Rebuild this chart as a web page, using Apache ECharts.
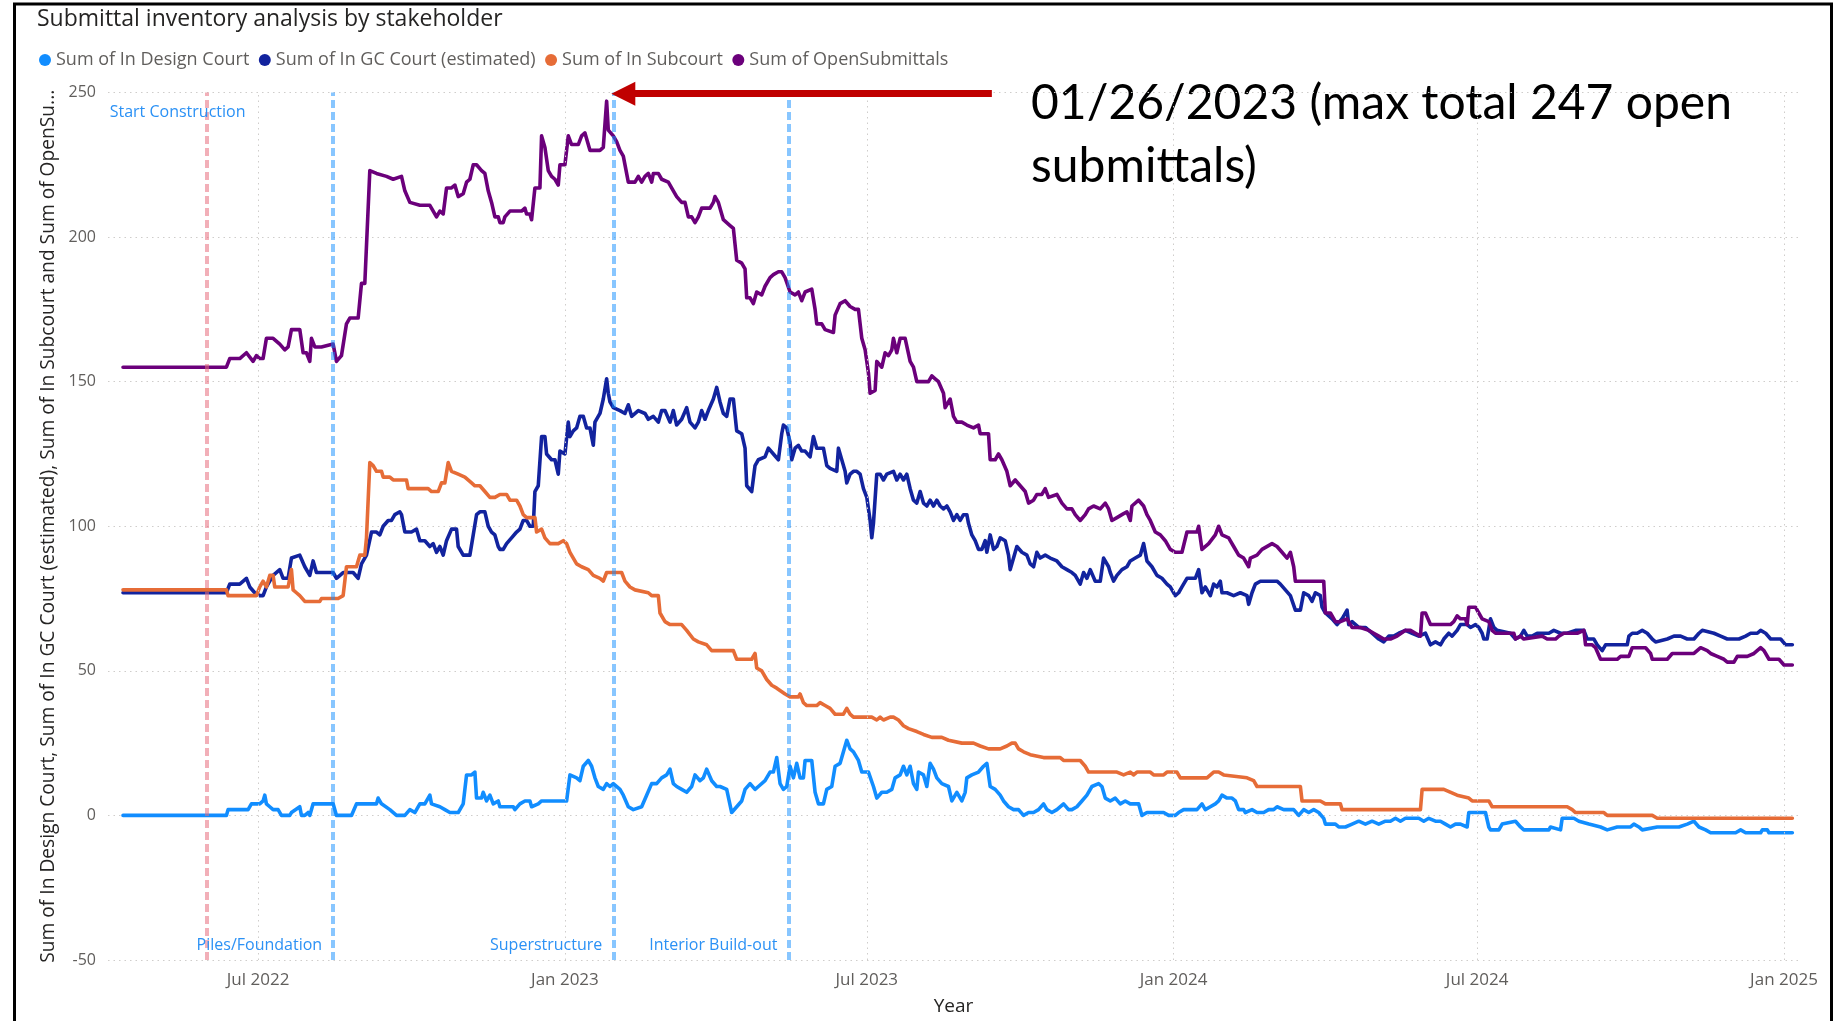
<!DOCTYPE html>
<html>
<head>
<meta charset="utf-8">
<title>Submittal inventory analysis by stakeholder</title>
<script src="https://cdn.jsdelivr.net/npm/echarts@6/dist/echarts.min.js"></script>
<style>
  html, body { margin: 0; padding: 0; background: #ffffff; }
  #chart-container { width: 1839px; height: 1021px; }
</style>
</head>
<body>
<div id="chart-container"></div>
<script>
const chartContainer = document.getElementById('chart-container');
const myChart = echarts.init(chartContainer, null, { renderer: 'canvas' });

const FONT = "'Segoe UI', 'Open Sans', sans-serif";

// 图例 / series names
const seriesNames = [
    'Sum of In Design Court',
    'Sum of In GC Court (estimated)',
    'Sum of In Subcourt',
    'Sum of OpenSubmittals'
];
const seriesColors = ['#118DFF', '#12239E', '#E66C37', '#6B007B'];

// x 轴刻度
const tickDates = ['2022-07-01', '2023-01-01', '2023-07-01', '2024-01-01', '2024-07-01', '2025-01-01'];
const tickLabels = ['Jul 2022', 'Jan 2023', 'Jul 2023', 'Jan 2024', 'Jul 2024', 'Jan 2025'];
const axisStart = '2022-04-02';
const axisEnd = '2025-01-10';

// 施工阶段线
const phaseNames = ['Start Construction', 'Piles/Foundation', 'Superstructure', 'Interior Build-out'];
const phaseDates = ['2022-05-31', '2022-08-15', '2023-01-30', '2023-05-15'];

// 峰值标注
const peakDate = '2023-01-26';
const peakValue = 247;

// Sum of In Design Court
const designCourt = [
    ['2022-04-11',0],['2022-06-12',0],['2022-06-13',2],['2022-06-25',2],['2022-06-27',4],['2022-07-02',4],['2022-07-04',5],['2022-07-05',7],
    ['2022-07-06',4],['2022-07-08',3],['2022-07-10',2],['2022-07-13',2],['2022-07-15',0],['2022-07-20',0],['2022-07-21',1],['2022-07-26',3],
    ['2022-07-27',0],['2022-07-29',0],['2022-07-31',1],['2022-08-01',0],['2022-08-03',4],['2022-08-15',4],['2022-08-17',0],['2022-08-26',0],
    ['2022-08-29',4],['2022-09-10',4],['2022-09-11',6],['2022-09-13',4],['2022-09-18',2],['2022-09-22',0],['2022-09-27',0],['2022-09-30',2],
    ['2022-10-03',1],['2022-10-06',4],['2022-10-09',4],['2022-10-12',7],['2022-10-13',4],['2022-10-18',3],['2022-10-21',2],['2022-10-24',1],
    ['2022-10-29',1],['2022-11-01',4],['2022-11-03',14],['2022-11-06',14],['2022-11-08',15],['2022-11-09',6],['2022-11-12',6],['2022-11-13',8],
    ['2022-11-15',5],['2022-11-17',7],['2022-11-19',4],['2022-11-22',5],['2022-11-23',3],['2022-12-01',3],['2022-12-02',2],['2022-12-05',4],
    ['2022-12-08',5],['2022-12-11',5],['2022-12-12',3],['2022-12-16',4],['2022-12-18',5],['2023-01-02',5],['2023-01-04',14],['2023-01-08',13],
    ['2023-01-10',12],['2023-01-12',17],['2023-01-15',19],['2023-01-17',17],['2023-01-19',13],['2023-01-21',10],['2023-01-24',9],['2023-01-26',11],
    ['2023-01-28',10],['2023-01-30',11],['2023-02-03',9],['2023-02-05',7],['2023-02-08',3],['2023-02-11',2],['2023-02-16',3],['2023-02-19',7],
    ['2023-02-22',11],['2023-02-25',11],['2023-02-28',13],['2023-03-03',14],['2023-03-05',16],['2023-03-07',11],['2023-03-09',10],['2023-03-12',9],
    ['2023-03-15',8],['2023-03-18',10],['2023-03-20',14],['2023-03-23',12],['2023-03-25',13],['2023-03-27',16],['2023-03-30',12],['2023-04-02',10],
    ['2023-04-04',10],['2023-04-08',9],['2023-04-11',1],['2023-04-14',3],['2023-04-17',5],['2023-04-19',9],['2023-04-22',11],['2023-04-25',9],
    ['2023-04-27',10],['2023-05-01',12],['2023-05-04',15],['2023-05-06',15],['2023-05-08',20],['2023-05-10',11],['2023-05-12',9],['2023-05-14',10],
    ['2023-05-16',17],['2023-05-18',13],['2023-05-20',18],['2023-05-22',13],['2023-05-24',13],['2023-05-25',19],['2023-05-29',19],['2023-05-31',8],
    ['2023-06-02',4],['2023-06-05',4],['2023-06-07',9],['2023-06-10',10],['2023-06-12',17],['2023-06-15',18],['2023-06-16',20],['2023-06-19',26],
    ['2023-06-21',23],['2023-06-23',22],['2023-06-26',19],['2023-06-28',15],['2023-07-02',15],['2023-07-05',10],['2023-07-07',6],['2023-07-10',8],
    ['2023-07-13',8],['2023-07-16',9],['2023-07-18',13],['2023-07-21',14],['2023-07-23',17],['2023-07-25',14],['2023-07-27',17],['2023-07-29',11],
    ['2023-07-31',9],['2023-08-01',15],['2023-08-04',14],['2023-08-06',10],['2023-08-08',18],['2023-08-10',16],['2023-08-12',13],['2023-08-15',11],
    ['2023-08-19',10],['2023-08-21',5],['2023-08-24',8],['2023-08-27',5],['2023-08-29',8],['2023-08-30',13],['2023-09-02',14],['2023-09-06',15],
    ['2023-09-09',17],['2023-09-11',18],['2023-09-13',10],['2023-09-16',9],['2023-09-19',7],['2023-09-21',5],['2023-09-24',3],['2023-09-27',2],
    ['2023-09-30',2],['2023-10-03',0],['2023-10-06',1],['2023-10-09',1],['2023-10-12',2],['2023-10-15',4],['2023-10-17',2],['2023-10-20',1],
    ['2023-10-23',2],['2023-10-27',4],['2023-10-30',2],['2023-11-01',2],['2023-11-04',3],['2023-11-07',5],['2023-11-10',7],['2023-11-13',10],
    ['2023-11-17',11],['2023-11-19',10],['2023-11-21',6],['2023-11-24',5],['2023-11-27',6],['2023-11-30',4],['2023-12-03',5],['2023-12-06',4],
    ['2023-12-11',4],['2023-12-13',0],['2023-12-16',1],['2023-12-26',1],['2023-12-29',0],['2024-01-02',0],['2024-01-04',1],['2024-01-07',2],
    ['2024-01-15',2],['2024-01-18',4],['2024-01-20',2],['2024-01-23',3],['2024-01-26',4],['2024-01-28',5],['2024-01-30',7],['2024-02-02',6],
    ['2024-02-05',6],['2024-02-07',5],['2024-02-09',2],['2024-02-12',2],['2024-02-13',1],['2024-02-17',2],['2024-02-20',1],['2024-02-24',1],
    ['2024-02-27',2],['2024-03-01',2],['2024-03-03',3],['2024-03-07',2],['2024-03-13',2],['2024-03-16',0],['2024-03-19',2],['2024-03-22',1],
    ['2024-03-25',2],['2024-03-28',1],['2024-03-31',-1],['2024-04-01',-3],['2024-04-07',-3],['2024-04-09',-4],['2024-04-13',-4],['2024-04-17',-3],
    ['2024-04-21',-2],['2024-04-25',-3],['2024-04-29',-2],['2024-05-03',-3],['2024-05-07',-2],['2024-05-10',-2],['2024-05-13',-1],['2024-05-16',-2],
    ['2024-05-19',-1],['2024-05-27',-1],['2024-05-30',-2],['2024-06-02',-1],['2024-06-06',-2],['2024-06-09',-2],['2024-06-12',-3],['2024-06-15',-4],
    ['2024-06-18',-3],['2024-06-21',-3],['2024-06-25',-4],['2024-06-26',1],['2024-07-06',1],['2024-07-08',-4],['2024-07-09',-5],['2024-07-14',-5],
    ['2024-07-16',-3],['2024-07-24',-2],['2024-07-27',-4],['2024-07-29',-5],['2024-08-13',-5],['2024-08-14',-4],['2024-08-20',-5],['2024-08-21',-1],
    ['2024-08-28',-1],['2024-08-31',-2],['2024-09-06',-3],['2024-09-13',-4],['2024-09-17',-5],['2024-09-23',-4],['2024-10-01',-4],['2024-10-03',-3],
    ['2024-10-06',-4],['2024-10-08',-5],['2024-10-17',-4],['2024-10-30',-4],['2024-11-04',-3],['2024-11-08',-2],['2024-11-11',-4],['2024-11-15',-5],
    ['2024-11-18',-6],['2024-12-03',-6],['2024-12-06',-5],['2024-12-09',-6],['2024-12-18',-6],['2024-12-19',-5],['2024-12-22',-5],['2024-12-23',-6],
    ['2025-01-06',-6]
];

// Sum of In GC Court (estimated)
const gcCourt = [
    ['2022-04-11',77],['2022-06-12',77],['2022-06-14',80],['2022-06-20',80],['2022-06-24',82],['2022-06-26',79],['2022-06-29',77],['2022-07-02',76],
    ['2022-07-04',76],['2022-07-06',79],['2022-07-10',83],['2022-07-14',85],['2022-07-16',82],['2022-07-19',82],['2022-07-21',89],['2022-07-26',90],
    ['2022-07-29',86],['2022-08-01',83],['2022-08-03',88],['2022-08-05',84],['2022-08-15',84],['2022-08-17',82],['2022-08-21',84],['2022-08-27',84],
    ['2022-08-30',82],['2022-09-01',87],['2022-09-04',90],['2022-09-07',98],['2022-09-10',98],['2022-09-12',97],['2022-09-14',100],['2022-09-17',102],
    ['2022-09-19',102],['2022-09-21',104],['2022-09-24',105],['2022-09-25',104],['2022-09-27',98],['2022-10-01',98],['2022-10-04',99],['2022-10-06',95],
    ['2022-10-09',95],['2022-10-12',93],['2022-10-14',94],['2022-10-16',91],['2022-10-18',93],['2022-10-20',90],['2022-10-22',95],['2022-10-25',99],
    ['2022-10-28',99],['2022-10-29',93],['2022-11-01',90],['2022-11-05',90],['2022-11-07',97],['2022-11-09',104],['2022-11-11',105],['2022-11-14',105],
    ['2022-11-16',100],['2022-11-18',98],['2022-11-20',97],['2022-11-22',93],['2022-11-23',92],['2022-11-25',92],['2022-11-27',94],['2022-11-30',96],
    ['2022-12-03',98],['2022-12-05',99],['2022-12-07',102],['2022-12-09',102],['2022-12-11',100],['2022-12-13',100],['2022-12-14',112],['2022-12-16',114],
    ['2022-12-18',131],['2022-12-20',131],['2022-12-21',125],['2022-12-24',123],['2022-12-26',123],['2022-12-28',118],['2022-12-29',126],['2023-01-01',125],
    ['2023-01-03',136],['2023-01-04',131],['2023-01-06',133],['2023-01-08',134],['2023-01-10',138],['2023-01-12',138],['2023-01-14',134],['2023-01-16',134],
    ['2023-01-18',128],['2023-01-19',136],['2023-01-20',136],['2023-01-22',139],['2023-01-24',144],['2023-01-26',151],['2023-01-27',146],['2023-01-28',143],
    ['2023-01-30',141],['2023-02-03',140],['2023-02-06',139],['2023-02-08',142],['2023-02-10',138],['2023-02-14',140],['2023-02-18',139],['2023-02-20',137],
    ['2023-02-23',138],['2023-02-26',136],['2023-02-28',140],['2023-03-02',140],['2023-03-05',136],['2023-03-07',140],['2023-03-09',135],['2023-03-12',137],
    ['2023-03-15',141],['2023-03-17',136],['2023-03-20',134],['2023-03-22',136],['2023-03-24',140],['2023-03-26',137],['2023-03-28',140],['2023-03-31',144],
    ['2023-04-02',148],['2023-04-04',143],['2023-04-06',139],['2023-04-08',138],['2023-04-10',144],['2023-04-12',144],['2023-04-14',133],['2023-04-17',132],
    ['2023-04-19',127],['2023-04-20',114],['2023-04-23',112],['2023-04-25',121],['2023-04-27',123],['2023-05-01',124],['2023-05-03',127],['2023-05-06',125],
    ['2023-05-09',123],['2023-05-11',132],['2023-05-12',135],['2023-05-14',134],['2023-05-16',129],['2023-05-17',123],['2023-05-19',127],['2023-05-21',128],
    ['2023-05-23',126],['2023-05-25',126],['2023-05-28',124],['2023-05-30',131],['2023-06-01',127],['2023-06-05',127],['2023-06-07',121],['2023-06-09',120],
    ['2023-06-13',119],['2023-06-14',127],['2023-06-16',123],['2023-06-18',119],['2023-06-19',115],['2023-06-21',118],['2023-06-23',119],['2023-06-25',119],
    ['2023-06-27',118],['2023-06-29',113],['2023-07-01',110],['2023-07-03',102],['2023-07-04',96],['2023-07-05',101],['2023-07-07',118],['2023-07-09',118],
    ['2023-07-11',116],['2023-07-13',118],['2023-07-17',119],['2023-07-19',116],['2023-07-21',118],['2023-07-23',116],['2023-07-25',118],['2023-07-27',113],
    ['2023-07-29',109],['2023-07-31',108],['2023-08-02',112],['2023-08-04',108],['2023-08-06',107],['2023-08-08',109],['2023-08-10',107],['2023-08-12',109],
    ['2023-08-14',107],['2023-08-16',106],['2023-08-18',107],['2023-08-20',105],['2023-08-22',102],['2023-08-24',104],['2023-08-26',102],['2023-08-28',104],
    ['2023-08-30',104],['2023-08-31',101],['2023-09-02',97],['2023-09-04',95],['2023-09-06',92],['2023-09-08',92],['2023-09-10',95],['2023-09-11',91],
    ['2023-09-13',97],['2023-09-15',92],['2023-09-17',93],['2023-09-19',96],['2023-09-22',95],['2023-09-24',90],['2023-09-25',85],['2023-09-27',89],
    ['2023-09-29',93],['2023-10-02',91],['2023-10-05',90],['2023-10-07',87],['2023-10-09',86],['2023-10-11',91],['2023-10-13',89],['2023-10-16',90],
    ['2023-10-19',89],['2023-10-23',88],['2023-10-26',86],['2023-10-29',85],['2023-11-01',84],['2023-11-03',83],['2023-11-06',80],['2023-11-08',84],
    ['2023-11-10',82],['2023-11-12',85],['2023-11-15',81],['2023-11-18',81],['2023-11-20',89],['2023-11-23',86],['2023-11-24',84],['2023-11-26',81],
    ['2023-11-28',83],['2023-12-01',85],['2023-12-04',86],['2023-12-06',88],['2023-12-09',89],['2023-12-12',90],['2023-12-14',94],['2023-12-16',88],
    ['2023-12-19',86],['2023-12-22',83],['2023-12-25',82],['2023-12-28',80],['2023-12-30',79],['2024-01-02',76],['2024-01-04',77],['2024-01-06',79],
    ['2024-01-09',82],['2024-01-14',82],['2024-01-16',85],['2024-01-18',77],['2024-01-20',79],['2024-01-23',76],['2024-01-25',80],['2024-01-27',79],
    ['2024-01-29',81],['2024-01-30',77],['2024-02-02',77],['2024-02-06',76],['2024-02-10',77],['2024-02-14',76],['2024-02-15',73],['2024-02-17',77],
    ['2024-02-19',80],['2024-02-22',81],['2024-03-03',81],['2024-03-05',80],['2024-03-08',78],['2024-03-11',76],['2024-03-14',71],['2024-03-17',71],
    ['2024-03-19',77],['2024-03-22',76],['2024-03-24',74],['2024-03-26',77],['2024-03-29',76],['2024-03-30',72],['2024-04-01',70],['2024-04-05',68],
    ['2024-04-08',66],['2024-04-11',68],['2024-04-14',71],['2024-04-15',66],['2024-04-17',67],['2024-04-21',65],['2024-04-25',65],['2024-04-29',63],
    ['2024-05-03',61],['2024-05-06',60],['2024-05-09',62],['2024-05-12',62],['2024-05-15',63],['2024-05-19',64],['2024-05-23',63],['2024-05-27',62],
    ['2024-05-31',63],['2024-06-03',59],['2024-06-06',60],['2024-06-09',59],['2024-06-11',61],['2024-06-14',63],['2024-06-16',62],['2024-06-19',64],
    ['2024-06-21',66],['2024-06-25',66],['2024-06-27',65],['2024-06-30',66],['2024-07-02',65],['2024-07-04',63],['2024-07-05',61],['2024-07-07',61],
    ['2024-07-09',68],['2024-07-11',65],['2024-07-13',64],['2024-07-21',63],['2024-07-24',61],['2024-07-27',62],['2024-07-29',64],['2024-07-31',62],
    ['2024-08-03',62],['2024-08-06',63],['2024-08-13',63],['2024-08-16',64],['2024-08-20',63],['2024-08-24',63],['2024-08-29',64],['2024-09-03',64],
    ['2024-09-05',61],['2024-09-09',61],['2024-09-11',59],['2024-09-14',57],['2024-09-16',59],['2024-09-29',59],['2024-09-30',62],['2024-10-02',63],
    ['2024-10-05',63],['2024-10-08',64],['2024-10-11',63],['2024-10-14',61],['2024-10-16',60],['2024-10-23',61],['2024-10-27',62],['2024-10-31',62],
    ['2024-11-04',61],['2024-11-08',61],['2024-11-11',63],['2024-11-13',64],['2024-11-20',63],['2024-11-24',62],['2024-11-28',61],['2024-12-05',61],
    ['2024-12-09',62],['2024-12-12',63],['2024-12-16',63],['2024-12-18',64],['2024-12-21',63],['2024-12-24',61],['2024-12-30',61],['2025-01-02',59],
    ['2025-01-06',59]
];

// Sum of In Subcourt
const subCourt = [
    ['2022-04-11',78],['2022-06-12',78],['2022-06-13',76],['2022-06-30',76],['2022-07-02',79],['2022-07-04',81],['2022-07-06',79],['2022-07-08',83],
    ['2022-07-10',83],['2022-07-11',79],['2022-07-19',79],['2022-07-21',85],['2022-07-22',78],['2022-07-24',77],['2022-07-26',76],['2022-07-29',74],
    ['2022-08-07',74],['2022-08-08',75],['2022-08-18',75],['2022-08-21',76],['2022-08-23',86],['2022-08-29',86],['2022-08-31',90],['2022-09-03',90],
    ['2022-09-04',96],['2022-09-06',122],['2022-09-08',121],['2022-09-10',119],['2022-09-13',119],['2022-09-14',117],['2022-09-18',117],['2022-09-20',116],
    ['2022-09-28',116],['2022-09-29',113],['2022-10-11',113],['2022-10-13',112],['2022-10-17',112],['2022-10-19',115],['2022-10-21',115],['2022-10-23',122],
    ['2022-10-25',119],['2022-10-29',118],['2022-11-02',117],['2022-11-06',115],['2022-11-08',114],['2022-11-11',114],['2022-11-14',112],['2022-11-17',110],
    ['2022-11-20',110],['2022-11-23',111],['2022-11-27',111],['2022-11-29',109],['2022-12-03',109],['2022-12-05',107],['2022-12-07',104],['2022-12-09',103],
    ['2022-12-14',103],['2022-12-15',98],['2022-12-18',99],['2022-12-20',96],['2022-12-23',94],['2022-12-28',94],['2022-12-31',95],['2023-01-02',94],
    ['2023-01-04',91],['2023-01-06',89],['2023-01-08',87],['2023-01-11',86],['2023-01-15',85],['2023-01-18',83],['2023-01-22',82],['2023-01-24',81],
    ['2023-01-26',84],['2023-02-04',84],['2023-02-06',81],['2023-02-09',79],['2023-02-12',78],['2023-02-20',77],['2023-02-22',76],['2023-02-26',76],
    ['2023-02-27',70],['2023-03-02',67],['2023-03-05',66],['2023-03-12',66],['2023-03-15',64],['2023-03-19',61],['2023-03-22',60],['2023-03-27',59],
    ['2023-03-30',57],['2023-04-12',57],['2023-04-14',54],['2023-04-23',54],['2023-04-25',56],['2023-04-26',51],['2023-04-29',50],['2023-05-02',47],
    ['2023-05-05',45],['2023-05-08',44],['2023-05-13',42],['2023-05-16',41],['2023-05-21',41],['2023-05-22',42],['2023-05-24',39],['2023-05-26',38],
    ['2023-06-01',38],['2023-06-03',39],['2023-06-06',38],['2023-06-09',37],['2023-06-12',35],['2023-06-17',35],['2023-06-19',37],['2023-06-21',35],
    ['2023-06-23',34],['2023-07-04',34],['2023-07-07',33],['2023-07-09',34],['2023-07-11',33],['2023-07-15',34],['2023-07-17',34],['2023-07-20',33],
    ['2023-07-23',31],['2023-07-26',30],['2023-07-31',29],['2023-08-04',28],['2023-08-09',27],['2023-08-15',27],['2023-08-19',26],['2023-08-27',25],
    ['2023-09-03',25],['2023-09-07',24],['2023-09-12',23],['2023-09-19',23],['2023-09-23',24],['2023-09-26',25],['2023-09-28',25],['2023-09-30',23],
    ['2023-10-03',22],['2023-10-07',21],['2023-10-15',20],['2023-10-25',20],['2023-10-27',19],['2023-11-06',19],['2023-11-09',17],['2023-11-11',15],
    ['2023-11-28',15],['2023-12-02',14],['2023-12-06',15],['2023-12-08',14],['2023-12-10',15],['2023-12-18',15],['2023-12-20',14],['2023-12-26',14],
    ['2023-12-28',15],['2024-01-03',15],['2024-01-05',13],['2024-01-21',13],['2024-01-25',15],['2024-01-28',15],['2024-01-31',14],['2024-02-14',13],
    ['2024-02-18',12],['2024-02-20',10],['2024-03-17',10],['2024-03-18',5],['2024-03-29',5],['2024-04-01',4],['2024-04-10',4],['2024-04-11',2],
    ['2024-05-28',2],['2024-05-29',9],['2024-06-11',9],['2024-06-19',7],['2024-06-26',6],['2024-06-28',5],['2024-07-08',5],['2024-07-10',3],
    ['2024-08-24',3],['2024-08-27',2],['2024-08-29',1],['2024-09-15',1],['2024-09-17',0],['2024-10-14',0],['2024-10-17',-1],['2025-01-06',-1]
];

// Sum of OpenSubmittals
const openSubmittals = [
    ['2022-04-11',155],['2022-06-12',155],['2022-06-14',158],['2022-06-20',158],['2022-06-24',160],['2022-06-28',157],['2022-06-30',159],['2022-07-02',158],
    ['2022-07-04',158],['2022-07-06',165],['2022-07-10',165],['2022-07-14',163],['2022-07-17',161],['2022-07-19',162],['2022-07-21',168],['2022-07-26',168],
    ['2022-07-28',160],['2022-07-30',160],['2022-08-01',157],['2022-08-02',165],['2022-08-04',162],['2022-08-08',162],['2022-08-15',163],['2022-08-17',157],
    ['2022-08-20',159],['2022-08-23',170],['2022-08-25',172],['2022-08-30',172],['2022-09-01',184],['2022-09-03',184],['2022-09-06',223],['2022-09-10',222],
    ['2022-09-16',221],['2022-09-20',220],['2022-09-25',221],['2022-09-27',216],['2022-09-30',212],['2022-10-06',211],['2022-10-12',211],['2022-10-16',207],
    ['2022-10-18',209],['2022-10-20',208],['2022-10-22',217],['2022-10-25',217],['2022-10-27',218],['2022-10-29',214],['2022-11-01',215],['2022-11-03',219],
    ['2022-11-05',220],['2022-11-07',225],['2022-11-09',225],['2022-11-12',223],['2022-11-14',222],['2022-11-16',216],['2022-11-18',212],['2022-11-20',207],
    ['2022-11-22',207],['2022-11-23',205],['2022-11-25',205],['2022-11-26',207],['2022-11-29',209],['2022-12-06',209],['2022-12-08',210],['2022-12-09',208],
    ['2022-12-11',208],['2022-12-12',206],['2022-12-14',217],['2022-12-17',217],['2022-12-18',235],['2022-12-20',231],['2022-12-22',223],['2022-12-24',221],
    ['2022-12-26',220],['2022-12-28',218],['2022-12-29',225],['2023-01-01',225],['2023-01-03',235],['2023-01-04',235],['2023-01-05',232],['2023-01-09',232],
    ['2023-01-11',235],['2023-01-13',236],['2023-01-14',236],['2023-01-16',230],['2023-01-22',230],['2023-01-24',231],['2023-01-26',247],['2023-01-27',237],
    ['2023-01-28',237],['2023-01-30',235],['2023-02-01',233],['2023-02-03',230],['2023-02-05',228],['2023-02-08',219],['2023-02-12',219],['2023-02-14',221],
    ['2023-02-16',219],['2023-02-18',221],['2023-02-20',222],['2023-02-22',219],['2023-02-23',222],['2023-02-26',222],['2023-02-28',220],['2023-03-04',219],
    ['2023-03-07',216],['2023-03-09',214],['2023-03-12',212],['2023-03-14',212],['2023-03-16',207],['2023-03-18',207],['2023-03-20',205],['2023-03-22',207],
    ['2023-03-24',210],['2023-03-29',210],['2023-03-31',212],['2023-04-01',214],['2023-04-03',212],['2023-04-06',206],['2023-04-08',205],['2023-04-10',204],
    ['2023-04-12',203],['2023-04-14',192],['2023-04-15',192],['2023-04-17',191],['2023-04-19',189],['2023-04-20',179],['2023-04-22',179],['2023-04-24',177],
    ['2023-04-26',181],['2023-04-29',180],['2023-05-01',183],['2023-05-04',186],['2023-05-06',187],['2023-05-09',188],['2023-05-11',188],['2023-05-13',186],
    ['2023-05-16',181],['2023-05-19',180],['2023-05-21',181],['2023-05-23',178],['2023-05-25',181],['2023-05-29',182],['2023-05-31',175],['2023-06-01',170],
    ['2023-06-04',170],['2023-06-06',168],['2023-06-11',167],['2023-06-12',173],['2023-06-15',177],['2023-06-18',178],['2023-06-21',176],['2023-06-24',175],
    ['2023-06-26',175],['2023-06-28',165],['2023-06-30',161],['2023-07-02',153],['2023-07-03',146],['2023-07-06',147],['2023-07-07',157],['2023-07-10',155],
    ['2023-07-12',160],['2023-07-14',159],['2023-07-16',161],['2023-07-17',165],['2023-07-19',160],['2023-07-21',165],['2023-07-24',165],['2023-07-27',157],
    ['2023-07-29',155],['2023-07-31',150],['2023-08-07',150],['2023-08-09',152],['2023-08-11',151],['2023-08-13',150],['2023-08-16',146],['2023-08-17',141],
    ['2023-08-20',144],['2023-08-22',138],['2023-08-24',136],['2023-08-27',136],['2023-08-30',135],['2023-09-03',134],['2023-09-06',135],['2023-09-07',132],
    ['2023-09-12',132],['2023-09-13',123],['2023-09-16',123],['2023-09-18',125],['2023-09-20',123],['2023-09-23',119],['2023-09-25',114],['2023-09-28',116],
    ['2023-10-01',114],['2023-10-04',112],['2023-10-06',108],['2023-10-09',109],['2023-10-11',111],['2023-10-14',111],['2023-10-16',113],['2023-10-18',110],
    ['2023-10-23',111],['2023-10-26',108],['2023-10-29',106],['2023-11-01',106],['2023-11-03',104],['2023-11-06',102],['2023-11-09',104],['2023-11-11',106],
    ['2023-11-14',107],['2023-11-18',106],['2023-11-21',108],['2023-11-23',106],['2023-11-25',102],['2023-11-28',103],['2023-12-01',104],['2023-12-04',105],
    ['2023-12-06',102],['2023-12-07',107],['2023-12-11',109],['2023-12-14',107],['2023-12-16',104],['2023-12-18',102],['2023-12-21',98],['2023-12-24',97],
    ['2023-12-27',95],['2023-12-30',92],['2024-01-02',91],['2024-01-06',91],['2024-01-09',98],['2024-01-15',98],['2024-01-16',100],['2024-01-18',92],
    ['2024-01-22',94],['2024-01-26',97],['2024-01-28',100],['2024-01-30',97],['2024-02-03',96],['2024-02-06',93],['2024-02-09',90],['2024-02-12',89],
    ['2024-02-15',86],['2024-02-16',89],['2024-02-20',90],['2024-02-23',92],['2024-02-29',94],['2024-03-03',93],['2024-03-06',91],['2024-03-09',89],
    ['2024-03-11',91],['2024-03-13',86],['2024-03-14',81],['2024-03-31',81],['2024-04-01',70],['2024-04-04',70],['2024-04-07',67],['2024-04-10',67],
    ['2024-04-14',68],['2024-04-17',65],['2024-04-22',65],['2024-04-27',64],['2024-04-30',63],['2024-05-03',62],['2024-05-06',61],['2024-05-10',61],
    ['2024-05-14',62],['2024-05-19',64],['2024-05-22',64],['2024-05-25',63],['2024-05-28',62],['2024-05-29',70],['2024-05-31',70],['2024-06-03',66],
    ['2024-06-15',66],['2024-06-17',67],['2024-06-19',69],['2024-06-21',68],['2024-06-24',68],['2024-06-25',66],['2024-06-26',72],['2024-06-30',72],
    ['2024-07-02',70],['2024-07-04',68],['2024-07-08',67],['2024-07-10',64],['2024-07-12',63],['2024-07-23',63],['2024-07-24',61],['2024-07-27',62],
    ['2024-07-29',61],['2024-08-09',62],['2024-08-12',61],['2024-08-17',61],['2024-08-19',62],['2024-08-22',63],['2024-08-30',63],['2024-09-03',64],
    ['2024-09-04',59],['2024-09-08',59],['2024-09-10',58],['2024-09-13',54],['2024-09-23',54],['2024-09-25',55],['2024-09-30',55],['2024-10-02',58],
    ['2024-10-10',58],['2024-10-13',56],['2024-10-14',54],['2024-10-23',54],['2024-10-26',56],['2024-11-08',56],['2024-11-12',58],['2024-11-16',57],
    ['2024-11-18',56],['2024-11-22',55],['2024-11-26',54],['2024-11-28',53],['2024-12-02',53],['2024-12-04',55],['2024-12-10',55],['2024-12-14',56],
    ['2024-12-18',58],['2024-12-20',57],['2024-12-23',54],['2024-12-29',54],['2025-01-01',52],['2025-01-06',52]
];

const seriesData = [designCourt, gcCourt, subCourt, openSubmittals];

// 日期字符串 -> 时间戳 (x 轴用数值轴)
function toTime(d) {
    return +echarts.time.parse(d);
}

const tickTimes = tickDates.map(toTime);
const gridColor = '#CFCDCB';
const phaseBlue = 'rgba(17,141,255,0.5)';
const phasePink = 'rgba(232,110,125,0.55)';
const phaseLabelColor = '#2B91F5';

const lineSeries = seriesNames.map((name, i) => ({
    name: name,
    type: 'line',
    data: seriesData[i].map(p => [toTime(p[0]), p[1]]),
    showSymbol: false,
    symbol: 'none',
    z: 3,
    lineStyle: { color: seriesColors[i], width: 3.6, join: 'round', cap: 'round' },
    itemStyle: { color: seriesColors[i] },
    emphasis: { disabled: true }
}));

const phaseLabelItems = phaseDates.map((d, i) => {
    if (i === 0) {
        // 顶部标签
        return {
            coord: [toTime('2022-04-03'), 243.2],
            label: { position: 'right', distance: 0, formatter: phaseNames[i] }
        };
    }
    return {
        coord: [toTime(d), -45],
        label: { position: 'left', distance: 11, formatter: phaseNames[i] }
    };
});

const option = {
    animation: false,
    backgroundColor: '#ffffff',
    textStyle: { fontFamily: FONT },
    title: {
        text: 'Submittal inventory analysis by stakeholder',
        left: 37,
        top: 8,
        padding: 0,
        textStyle: { fontFamily: FONT, fontSize: 23, fontWeight: 'normal', color: '#252423' }
    },
    legend: {
        data: seriesNames,
        left: 39,
        top: 51,
        padding: 0,
        icon: 'circle',
        itemWidth: 12,
        itemHeight: 12,
        itemGap: 9.5,
        selectedMode: false,
        textStyle: { fontFamily: FONT, fontSize: 18, color: '#605E5C' }
    },
    grid: {
        left: 108,
        right: 40,
        top: 92.5,
        bottom: 59
    },
    xAxis: {
        type: 'value',
        min: toTime(axisStart),
        max: toTime(axisEnd),
        scale: true,
        name: 'Year',
        nameLocation: 'middle',
        nameGap: 37,
        nameTextStyle: { fontFamily: FONT, fontSize: 19, color: '#252423' },
        axisLine: { show: false },
        axisTick: { show: false },
        splitLine: { show: false },
        axisLabel: {
            customValues: tickTimes,
            margin: 12,
            fontFamily: FONT,
            fontSize: 17,
            color: '#605E5C',
            formatter: function (value) {
                const idx = tickTimes.indexOf(value);
                return idx >= 0 ? tickLabels[idx] : '';
            }
        }
    },
    yAxis: {
        type: 'value',
        min: -50,
        max: 250,
        interval: 50,
        name: 'Sum of In Design Court, Sum of In GC Court (estimated), Sum of In Subcourt and Sum of OpenSu...',
        nameLocation: 'middle',
        nameGap: 45.5,
        nameTextStyle: { fontFamily: FONT, fontSize: 19.2, color: '#252423' },
        axisLine: { show: false },
        axisTick: { show: false },
        axisLabel: { margin: 12, fontFamily: FONT, fontSize: 16, color: '#605E5C' },
        splitLine: { show: true, lineStyle: { color: gridColor, width: 1, type: [1.5, 4] } }
    },
    series: [
        // 竖向网格线
        {
            name: 'x-grid',
            type: 'line',
            data: [],
            z: 1,
            silent: true,
            markLine: {
                silent: true,
                animation: false,
                symbol: ['none', 'none'],
                label: { show: false },
                lineStyle: { color: gridColor, width: 1, type: [1.5, 4] },
                data: tickTimes.map(t => ({ xAxis: t }))
            }
        }
    ].concat(lineSeries).concat([
        // 阶段线 + 标签
        {
            name: 'phases',
            type: 'line',
            data: [],
            z: 5,
            silent: true,
            markLine: {
                silent: true,
                animation: false,
                symbol: ['none', 'none'],
                label: { show: false },
                data: phaseDates.map((d, i) => ({
                    xAxis: toTime(d),
                    lineStyle: { color: i === 0 ? phasePink : phaseBlue, width: 4, type: [8, 4] }
                }))
            },
            markPoint: {
                silent: true,
                animation: false,
                symbol: 'circle',
                symbolSize: 0,
                itemStyle: { color: 'transparent' },
                label: { show: true, fontFamily: FONT, fontSize: 16, color: phaseLabelColor },
                data: phaseLabelItems
            }
        },
        // 峰值箭头
        {
            name: 'peak-arrow',
            type: 'line',
            data: [],
            z: 6,
            silent: true,
            markLine: {
                silent: true,
                animation: false,
                symbol: ['none', 'triangle'],
                symbolSize: 24,
                label: { show: false },
                lineStyle: { color: '#C00000', width: 7, type: 'solid', cap: 'butt' },
                itemStyle: { color: '#C00000' },
                data: [[
                    { coord: [toTime('2023-09-14'), 249.6] },
                    { coord: [toTime('2023-02-05'), 249.6] }
                ]]
            }
        }
    ]),
    graphic: [
        {
            type: 'text',
            left: 1031,
            top: 72.5,
            silent: true,
            style: {
                text: peakDate.slice(5, 7) + '/' + peakDate.slice(8, 10) + '/' + peakDate.slice(0, 4) +
                    ' (max total ' + peakValue + ' open\nsubmittals)',
                font: "48px Lato, 'Open Sans', sans-serif",
                fill: '#000000',
                lineHeight: 63
            }
        },
        {
            type: 'rect',
            silent: true,
            shape: { x: 14.5, y: 4, width: 1817, height: 1040 },
            style: { fill: 'none', stroke: '#000000', lineWidth: 3 }
        }
    ]
};

myChart.setOption(option, { notMerge: true });

window.addEventListener('resize', () => {
    myChart.resize();
});
</script>
</body>
</html>
